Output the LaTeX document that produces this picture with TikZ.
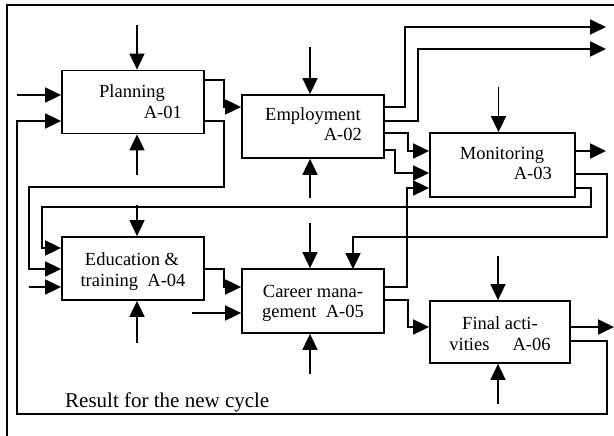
\documentclass[tikz,border=0pt]{standalone}
\usepackage{fontspec}
\setmainfont{Liberation Serif}
\usetikzlibrary{positioning}
\usetikzlibrary{calc}
\usetikzlibrary{arrows.meta}

\tikzset{
  box/.style={draw, rectangle, line width=1.8pt, inner sep=0pt, minimum width=142pt, minimum height=63pt},
  arr/.style={line width=1.8pt, -{Triangle[length=16pt,width=15pt]}},
  lbl/.style={inner sep=0pt, anchor=base, font=\fontsize{18.5}{21}\selectfont},
}

\begin{document}
\begin{tikzpicture}[x=1pt, y=-1pt]
  \useasboundingbox (0,0) rectangle (614,436);
  % frame
  \draw[line width=1.8pt] (614,5) -- (7,5) -- (7,436);

  % activities
  \node[box] (P) at (133,102) {};
  \node[box] (E) at (313,126.5) {};
  \node[box, minimum width=145pt, minimum height=64pt] (M) at (502.5,165) {};
  \node[box] (Ed) at (133,268.5) {};
  \node[box, minimum height=64pt] (C) at (313,301) {};
  \node[box, minimum width=140pt, minimum height=62pt] (F) at (500,332) {};

  \node[lbl] (Pa) at (132,98) {Planning};
  \node[lbl, anchor=base east] (Pb) at (182,118) {A-01};
  \node[lbl] (Ea) at (313,121) {Employment};
  \node[lbl, anchor=base east] (Eb) at (362,141) {A-02};
  \node[lbl] (Ma) at (502,159) {Monitoring};
  \node[lbl, anchor=base east] (Mb) at (552,179) {A-03};
  \node[lbl] (Eda) at (132,265) {Education \&};
  \node[lbl] (Edb) at (133,286) {training\ \ A-04};
  \node[lbl] (Ca) at (313,297) {Career mana-};
  \node[lbl] (Cb) at (313,317) {gement\ \ A-05};
  \node[lbl] (Fa) at (500,329) {Final acti-};
  \node[lbl] (Fb) at (500,350) {vities\hspace{23pt}A-06};
  \node[lbl, anchor=base west, font=\fontsize{21}{24}\selectfont] (res) at (65,407) {Result for the new cycle};

  % controls and mechanisms
  \foreach \b/\dx/\l in {P/4/45, E/-3/47, M/-4/45, Ed/4/31, C/-3/45, F/-2/44}
    \draw[arr] (\b.north) ++(\dx,-\l) -- ++(0,\l);
  \foreach \b/\dx/\l in {P/4/41, E/-3/39, Ed/4/42, C/-3/40, F/-2/40}
    \draw[arr] (\b.south) ++(\dx,\l) -- ++(0,-\l);

  % free inputs
  \coordinate (in1) at (17,95);
  \coordinate (in2) at (29,287);
  \coordinate (in3) at (192,313);
  \draw[arr] (in1) -- (P.west |- in1);
  \draw[arr] (in2) -- (Ed.west |- in2);
  \draw[arr] (in3) -- (C.west |- in3);

  % free outputs
  \coordinate (out1) at (606,27);
  \coordinate (out2) at (606,49);
  \coordinate (out3) at (606,151);
  \coordinate (out4) at (614,327);
  \draw[arr] (E.east |- 0,107) -- ++(20,0) |- (out1);
  \draw[arr] (E.east |- 0,121) -- ++(33,0) |- (out2);
  \draw[arr] (M.east |- out3) -- (out3);
  \draw[arr] (F.east |- out4) -- (out4);

  % links between activities
  \draw[arr] (P.east |- 0,80) -- ++(19,0) |- (E.west |- 0,107);
  \draw[arr] (P.east |- 0,121) -- ++(19,0) |- (29,187) |- (Ed.west |- 0,269);
  \draw[arr] (E.east |- 0,133) -- ++(23,0) |- (M.west |- 0,151);
  \draw[arr] (E.east |- 0,150) -- ++(10,0) |- (M.west |- 0,173);
  \draw[arr] (C.east |- 0,287) -- ++(22,0) |- (M.west |- 0,188);
  \draw[arr] (Ed.east |- 0,269) -- ++(19,0) |- (C.west |- 0,287);
  \draw[arr] (C.east |- 0,300) -- ++(23,0) |- (F.west |- 0,327);
  \draw[arr] (M.east |- 0,188) -- ++(15,0) |- (42,207) |- (Ed.west |- 0,248);
  \draw[arr] (M.east |- 0,174) -- ++(31,0) |- (353,237) -- (353,269);
  \draw[arr] (F.east |- 0,341) -- ++(36,0) |- (17,414) |- (P.west |- 0,121);
\end{tikzpicture}
\end{document}
